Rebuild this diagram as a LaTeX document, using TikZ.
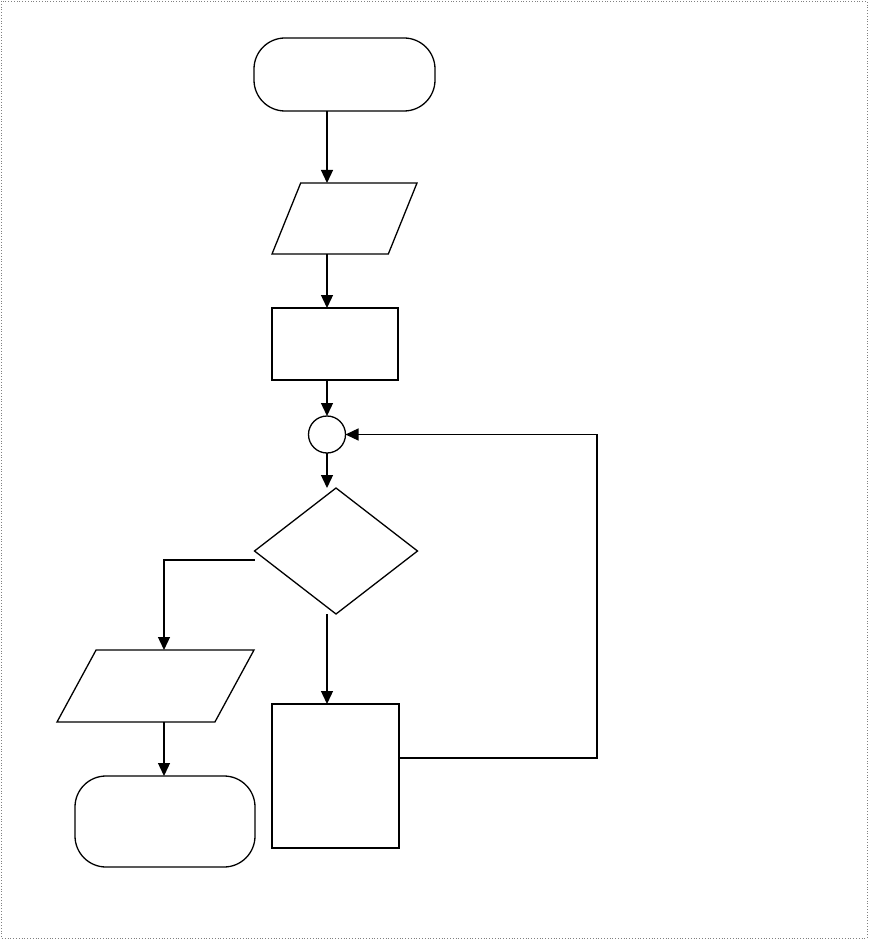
\documentclass[tikz,border=0pt]{standalone}
\usepackage{tikz}
\usetikzlibrary{shapes.geometric,arrows.meta}

\begin{document}
\begin{tikzpicture}[x=1pt,y=-1pt]
\tikzstyle{outline}=[draw=black,line width=1.3pt,inner sep=0pt,outer sep=0pt]
\tikzstyle{term}=[outline,rectangle,rounded corners=31pt]
\tikzstyle{io}=[outline,trapezium,trapezium stretches body=true,inner xsep=0pt]
\tikzstyle{flow}=[line width=1.3pt,-{Triangle[length=13pt,width=12pt]}]
\useasboundingbox (0,0) rectangle (869,941);
\draw[dotted,gray,line width=0.8pt] (1,1) rectangle (867,938);
\coordinate (spine) at (327,0);
\coordinate (branch) at (164,0);
\node[term,minimum width=181pt,minimum height=73pt] (start) at (344.5,74.5) {};
\node[io,inner ysep=35.5pt,trapezium left angle=68,trapezium right angle=112,minimum width=145pt] (read) at (344.5,218.5) {};
\node[outline,rectangle,minimum width=126pt,minimum height=72pt] (init) at (335,344) {};
\node[outline,circle,minimum size=37pt] (join) at (327,434.5) {};
\node[outline,diamond,minimum width=163pt,minimum height=126pt] (test) at (336,551) {};
\node[outline,rectangle,minimum width=127pt,minimum height=144pt] (body) at (335.5,776) {};
\node[io,inner ysep=36pt,trapezium left angle=61.5,trapezium right angle=118.5,minimum width=197pt] (print) at (155.5,686) {};
\node[term,minimum width=180pt,minimum height=91pt] (stop) at (165,821.5) {};
% main line
\draw[flow] (start.south -| spine) -- (read.north -| spine);
\draw[flow] (read.south -| spine) -- (init.north -| spine);
\draw[flow] (init.south -| spine) -- (join.north);
\draw[flow] (join.south) -- (test.north -| spine);
\draw[flow] (test.south -| spine) -- (body.north -| spine);
% loop back
\draw[flow] ([yshift=18pt]body.east) -- ++(198,0) |- (join.east);
% exit
\draw[flow] ([yshift=-9pt]test.west) -| (print.north -| branch);
\draw[flow] (print.south -| branch) -- (stop.north -| branch);
\end{tikzpicture}
\end{document}
